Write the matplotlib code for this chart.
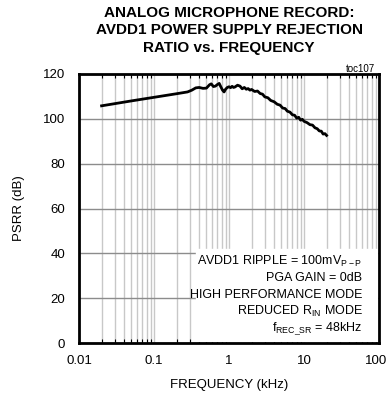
import matplotlib
matplotlib.use("Agg")
import matplotlib.pyplot as plt
import matplotlib.transforms as mtransforms
from matplotlib.ticker import LogLocator, NullFormatter, FixedLocator

### Data
freq_khz = [0.02, 0.05, 0.1, 0.2, 0.28, 0.32, 0.36, 0.40, 0.45, 0.50,
            0.55, 0.58, 0.62, 0.66, 0.70, 0.74, 0.78, 0.82, 0.86, 0.90,
            0.95, 1.0, 1.05, 1.1, 1.15, 1.2, 1.3, 1.4, 1.5, 1.6,
            1.7, 1.8, 1.9, 2.0, 2.2, 2.4, 2.6, 2.8, 3.0, 3.3,
            3.6, 4.0, 4.4, 4.8, 5.2, 5.6, 6.0, 6.5, 7.0, 7.5,
            8.0, 8.5, 9.0, 9.5, 10, 11, 12, 13, 14, 15,
            16, 17, 18, 19, 20]
psrr_db = [105.8, 108.0, 109.6, 111.2, 112.0, 112.8, 113.8, 114.0, 113.6, 113.7,
           115.2, 115.6, 114.4, 114.6, 115.3, 115.8, 114.2, 112.8, 112.0, 113.2,
           114.0, 114.3, 113.9, 114.5, 114.0, 114.2, 115.0, 114.6, 113.4, 114.0,
           113.2, 113.5, 112.8, 113.1, 112.2, 112.4, 111.3, 111.0, 109.8, 109.4,
           108.2, 107.6, 106.5, 106.1, 104.8, 104.6, 103.4, 103.0, 101.8, 101.6,
           100.3, 100.7, 99.4, 99.8, 98.9, 98.3, 97.4, 97.2, 96.0, 95.6,
           94.6, 94.5, 93.2, 93.4, 92.6]

x_ticks = [0.01, 0.1, 1, 10, 100]
x_tick_labels = ["0.01", "0.1", "1", "10", "100"]
y_ticks = [0, 20, 40, 60, 80, 100, 120]

title = "ANALOG MICROPHONE RECORD:\nAVDD1 POWER SUPPLY REJECTION\nRATIO vs. FREQUENCY"
notes = ["AVDD1 RIPPLE = 100mV$_{\\mathrm{P-P}}$",
         "PGA GAIN = 0dB",
         "HIGH PERFORMANCE MODE",
         "REDUCED R$_{\\mathrm{IN}}$ MODE",
         "f$_{\\mathrm{REC\\_SR}}$ = 48kHz"]

plt.rcParams["font.family"] = ["Liberation Sans", "DejaVu Sans"]
plt.rcParams["mathtext.fontset"] = "custom"
plt.rcParams["mathtext.rm"] = "Liberation Sans"

fig = plt.figure(figsize=(3.88, 3.94), dpi=100)
ax = fig.add_axes([79 / 388, 1 - 343 / 394, 300 / 388, 269 / 394])

ax.set_xscale("log")
ax.set_xlim(0.01, 100)
ax.set_ylim(0, 120)

# grid: light vertical lines at every decade step, darker horizontal lines
ax.xaxis.set_minor_locator(LogLocator(base=10, subs=range(2, 10)))
ax.xaxis.set_minor_formatter(NullFormatter())
ax.grid(True, which="both", axis="x", color="#c8c8c8", lw=1)
ax.grid(True, which="major", axis="y", color="#8c8c8c", lw=1)
ax.set_axisbelow(True)

ax.plot(freq_khz, psrr_db, color="black", lw=2)

ax.xaxis.set_major_locator(FixedLocator(x_ticks))
ax.set_xticklabels(x_tick_labels)
ax.set_yticks(y_ticks)
ax.tick_params(which="both", direction="in", top=True, right=True, labelsize=9.5)
ax.tick_params(axis="x", pad=9)
ax.tick_params(axis="y", pad=10)
ax.tick_params(which="major", length=0)
ax.tick_params(which="minor", length=3, width=0.8)
for s in ax.spines.values():
    s.set_linewidth(2)

# pull the last x label in a little so it stays inside the figure
last = ax.get_xticklabels()[-1]
last.set_transform(last.get_transform() +
                   mtransforms.ScaledTranslation(-3 / 100, 0, fig.dpi_scale_trans))

ax.set_xlabel("FREQUENCY (kHz)", fontsize=9.5, labelpad=8)
ax.set_ylabel("PSRR (dB)", fontsize=9.5, labelpad=13)

# notes box in the lower right corner
ax.fill_between([0.36, 95], 0.8, 42, color="white", zorder=1.5)
for i, line in enumerate(notes):
    ax.text(0.945, 0.305 - i * 0.0625, line, transform=ax.transAxes,
            ha="right", va="center", fontsize=9, zorder=3)

fig.text(229 / 388, 1 - 6 / 394, title, ha="center", va="top",
         fontsize=11, fontweight="bold", linespacing=1.3)
fig.text(375 / 388, 1 - 72 / 394, "toc107", ha="right", va="baseline", fontsize=7)

fig.savefig("out.png", dpi=100)
